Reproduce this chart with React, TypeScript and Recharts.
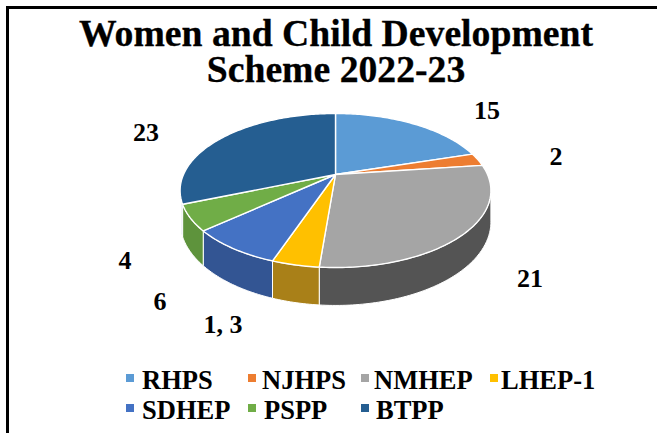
import { PieChart, Pie, Cell, Legend } from 'recharts';

const categories = ['RHPS', 'NJHPS', 'NMHEP', 'LHEP-1', 'SDHEP', 'PSPP', 'BTPP'];
const values = [15, 2, 21, 3, 6, 4, 23];
const valueLabels = ['15', '2', '21', '1, 3', '6', '4', '23'];
const colors = ['#5B9BD5', '#ED7D31', '#A5A5A5', '#FFC000', '#4472C4', '#70AD47', '#255E91'];
const sideColors = ['#4A7FB0', '#C2662A', '#545454', '#A98018', '#335593', '#5E933C', '#1E4D78'];

// where Excel left each data label
const labelSpots = [
  [487, 119], [556, 165], [530, 287], [223, 333], [160, 310], [125, 269], [146, 141],
];
const legendSpots = [
  [126, 142, 389], [248, 262, 389], [361, 374, 389], [490, 501, 389],
  [126, 142, 419], [248, 264, 419], [361, 376, 419],
];

const data = categories.map((name, i) => ({ name, value: values[i] }));

const FONT = '"Liberation Serif", serif';
const TILT = 73.7 / 152; // squash of the disc
const PERSP = 0.208; // back of the disc is further away
const DEPTH = 30;

// clockwise degrees from 12 o'clock onto the tilted disc
function project(cx: number, cy: number, r: number, deg: number, drop = 0) {
  const a = (deg * Math.PI) / 180;
  const w = 1 + PERSP * Math.cos(a);
  return [cx + (r * Math.sin(a)) / w, cy - (r * TILT * Math.cos(a)) / w + (drop * DEPTH) / w];
}

function arc(cx: number, cy: number, r: number, from: number, to: number, drop = 0) {
  const pts: number[][] = [];
  const n = Math.max(2, Math.ceil(Math.abs(to - from)));
  for (let i = 0; i <= n; i++) pts.push(project(cx, cy, r, from + ((to - from) * i) / n, drop));
  return pts;
}

const toPath = (pts: number[][]) =>
  pts.map((p, i) => `${i ? 'L' : 'M'}${p[0].toFixed(2)},${p[1].toFixed(2)}`).join(' ');

function TiltedSlice(props: any) {
  const { cx, cy, outerRadius, startAngle, endAngle, fill, index } = props;
  const from = 90 - startAngle;
  const to = 90 - endAngle;
  const top = toPath([[cx, cy], ...arc(cx, cy, outerRadius, from, to)]) + ' Z';
  // the wall only shows on the front of the disc
  const wFrom = Math.max(from, 102);
  const wTo = Math.min(to, 250);
  let wall = null;
  if (wTo > wFrom) {
    const upper = arc(cx, cy, outerRadius, wFrom, wTo);
    const lower = arc(cx, cy, outerRadius, wFrom, wTo, 1).reverse();
    wall = <path d={toPath([...upper, ...lower]) + ' Z'} fill={sideColors[index]} stroke="#fff" strokeWidth={1} strokeLinejoin="round" />;
  }
  return (
    <g>
      {wall}
      <path d={top} fill={fill} stroke="#fff" strokeWidth={1.4} strokeLinejoin="round" />
    </g>
  );
}

function renderLabel(props: any) {
  const spot = labelSpots[props.index];
  return (
    <text x={spot[0]} y={spot[1]} textAnchor="middle" fontFamily={FONT} fontWeight="bold" fontSize={26} fill="#000">
      {valueLabels[props.index]}
    </text>
  );
}

function renderLegend() {
  return (
    <svg width={657} height={433} style={{ position: 'absolute', left: 0, top: 0 }}>
      {categories.map((name, i) => (
        <g key={name}>
          <rect x={legendSpots[i][0]} y={legendSpots[i][2] - 15} width={8} height={8} fill={colors[i]} />
          <text x={legendSpots[i][1]} y={legendSpots[i][2]} fontFamily={FONT} fontWeight="bold" fontSize={26.5} fill="#000">
            {name}
          </text>
        </g>
      ))}
    </svg>
  );
}

export default function App() {
  return (
    <div style={{ position: 'absolute', left: 0, top: 0, width: 657, height: 433, background: '#fff', overflow: 'hidden' }}>
      <div style={{ position: 'absolute', left: 6, top: 6, width: 670, height: 450, border: '3px solid #000', boxSizing: 'border-box' }} />
      <PieChart width={657} height={433} margin={{ top: 0, right: 0, bottom: 0, left: 0 }} style={{ position: 'absolute', left: 0, top: 0 }}>
        <text x={336} y={46} textAnchor="middle" fontFamily={FONT} fontWeight="bold" fontSize={37.7} stroke="#000" strokeWidth={0.3} fill="#000">
          Women and Child Development
        </text>
        <text x={336} y={82} textAnchor="middle" fontFamily={FONT} fontWeight="bold" fontSize={37.7} stroke="#000" strokeWidth={0.3} fill="#000">
          Scheme 2022-23
        </text>
        <Pie
          data={data}
          dataKey="value"
          nameKey="name"
          cx={335.5}
          cy={174.5}
          innerRadius={0}
          outerRadius={152}
          startAngle={90}
          endAngle={-270}
          paddingAngle={0}
          shape={TiltedSlice}
          label={renderLabel}
          labelLine={false}
          isAnimationActive={false}
        >
          {categories.map((name, i) => (
            <Cell key={name} fill={colors[i]} />
          ))}
        </Pie>
        <Legend content={renderLegend} wrapperStyle={{ position: 'absolute', left: 0, top: 0, bottom: 'auto', width: 657, height: 433 }} />
      </PieChart>
    </div>
  );
}
